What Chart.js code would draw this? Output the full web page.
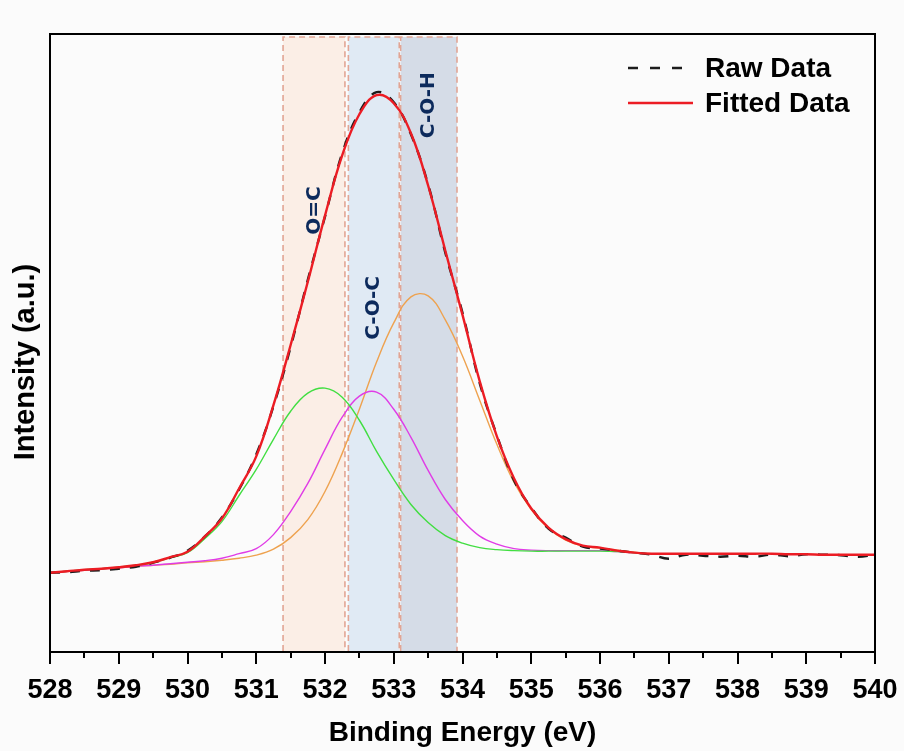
<!DOCTYPE html>
<html>
<head>
<meta charset="utf-8">
<script src="https://cdn.jsdelivr.net/npm/chart.js@4.4.1/dist/chart.umd.min.js"></script>
<style>
  html, body { margin: 0; padding: 0; background: #fbfbfb; }
  canvas { display: block; }
</style>
</head>
<body>
<canvas id="xps" width="904" height="751"></canvas>
<script>
// O 1s region: binding energy grid (eV)
const energy = [
  528.00, 528.25, 528.50, 528.75, 529.00, 529.25, 529.50, 529.75,
  530.00, 530.25, 530.50, 530.75, 531.00, 531.25, 531.50, 531.75,
  532.00, 532.25, 532.50, 532.75, 533.00, 533.25, 533.50, 533.75,
  534.00, 534.25, 534.50, 534.75, 535.00, 535.25, 535.50, 535.75,
  536.00, 536.25, 536.50, 536.75, 537.00, 537.25, 537.50, 537.75,
  538.00, 538.25, 538.50, 538.75, 539.00, 539.25, 539.50, 539.75,
  540.00
];

// Measured spectrum (a.u.)
const rawData = [
  79, 79.5, 81, 81.5, 83, 85, 89, 94,
  101, 115, 134, 162, 197, 245, 304, 371,
  434, 497, 538, 558, 548, 516, 466, 398,
  338, 268, 216, 171, 144, 123, 114, 105,
  103, 101, 99, 97, 93, 97, 96, 95,
  96, 95, 97, 95.5, 97.5, 97, 96.5, 95,
  97
];

// Envelope of the peak fit (a.u.)
const fittedData = [
  79, 80.5, 82, 83, 84.5, 86.5, 89.5, 94.5,
  100, 115, 133, 163, 195, 246, 306, 369,
  435, 495, 536, 555, 547, 517, 465, 400,
  336, 270, 215, 173, 143, 124, 112.5, 106,
  104, 101, 99, 98, 98, 98, 98, 98,
  98, 98, 98, 97.5, 97.5, 97, 97, 97,
  97
];

// Fitted components, 528 - 537 eV (a.u.)
const peakOC = [
  79, 80.5, 82, 83, 84.5, 86.5, 89, 94,
  99, 113, 130, 156, 182, 212, 240, 258,
  263, 254, 231, 200, 172, 147, 129, 116,
  108.5, 104, 102, 101, 100.5, 100.5, 100.5, 100.5,
  100.5, 100, 99, 98, 98
];
const peakCOC = [
  79, 80.5, 81.5, 83, 84, 85.5, 86.5, 88,
  89.5, 91, 93.5, 98, 103, 117, 140, 168,
  202, 234, 255, 259, 242, 214, 181, 152,
  131, 115.5, 107.5, 103, 101.5, 101, 101, 101,
  101, 100, 99, 98, 98
];
const peakCOH = [
  79, 80.5, 81.5, 83, 84, 85.5, 86.5, 87.5,
  89, 90, 91.5, 93.5, 96.5, 102.5, 114, 132,
  160, 198, 242, 289, 328, 354, 355, 331,
  295, 251, 207, 169, 142, 123, 111.5, 105.5,
  103.5, 101.5, 99.5, 98, 98
];

// Axis ticks (eV)
const xTicks = [528, 529, 530, 531, 532, 533, 534, 535, 536, 537, 538, 539, 540];

// Chemical-state windows (eV)
const bandNames = ['O=C', 'C-O-C', 'C-O-H'];
const bandStart = [531.39, 532.34, 533.10];
const bandEnd = [532.29, 533.08, 533.92];

const pts = arr => arr.map((y, i) => ({ x: energy[i], y }));

const AXIS_FONT = "'Liberation Sans', Arial, sans-serif";

// Shaded windows with dashed outlines, behind the curves
const bandPlugin = {
  id: 'bands',
  beforeDatasetsDraw(chart, args, opts) {
    const { ctx, chartArea, scales } = chart;
    const top = chartArea.top + 3;
    const bottom = chartArea.bottom - 1;
    ctx.save();
    bandNames.forEach((name, i) => {
      const x1 = scales.x.getPixelForValue(bandStart[i]);
      const x2 = scales.x.getPixelForValue(bandEnd[i]);
      ctx.fillStyle = opts.fills[i];
      ctx.fillRect(x1, top, x2 - x1, bottom - top);
    });
    ctx.strokeStyle = opts.edge;
    ctx.lineWidth = 1.6;
    ctx.setLineDash([6, 4]);
    bandNames.forEach((name, i) => {
      const x1 = scales.x.getPixelForValue(bandStart[i]);
      const x2 = scales.x.getPixelForValue(bandEnd[i]);
      ctx.beginPath();
      ctx.moveTo(x1, bottom);
      ctx.lineTo(x1, top);
      ctx.lineTo(x2, top);
      ctx.lineTo(x2, bottom);
      ctx.stroke();
    });
    ctx.restore();
  },
  afterDatasetsDraw(chart, args, opts) {
    const { ctx, scales } = chart;
    ctx.save();
    ctx.fillStyle = opts.labelColor;
    ctx.font = "bold 20px 'DejaVu Sans', sans-serif";
    ctx.textAlign = 'center';
    ctx.textBaseline = 'middle';
    bandNames.forEach((name, i) => {
      const x = scales.x.getPixelForValue(opts.labelAt[i][0]);
      const y = scales.y.getPixelForValue(opts.labelAt[i][1]);
      ctx.save();
      ctx.translate(x, y);
      ctx.rotate(-Math.PI / 2);
      ctx.fillText(name, 0, 0);
      ctx.restore();
    });
    ctx.restore();
  }
};

// Closed frame, minor ticks, y-axis title and the in-plot legend
const framePlugin = {
  id: 'frame',
  beforeDraw(chart) {
    const { ctx, width, height } = chart;
    ctx.save();
    ctx.fillStyle = '#fbfbfb';
    ctx.fillRect(0, 0, width, height);
    ctx.restore();
  },
  afterDraw(chart, args, opts) {
    const { ctx, chartArea, scales } = chart;
    ctx.save();
    ctx.strokeStyle = '#000';
    ctx.lineWidth = 2;
    ctx.strokeRect(chartArea.left, chartArea.top, chartArea.right - chartArea.left, chartArea.bottom - chartArea.top);
    // minor ticks halfway between the labelled ones
    ctx.beginPath();
    xTicks.slice(0, -1).forEach(v => {
      const x = Math.round(scales.x.getPixelForValue(v + 0.5));
      ctx.moveTo(x, chartArea.bottom);
      ctx.lineTo(x, chartArea.bottom + 6);
    });
    ctx.stroke();

    // y-axis title, sitting a little below the plot's middle
    ctx.save();
    ctx.fillStyle = '#000';
    ctx.font = "bold 29px " + AXIS_FONT;
    ctx.textAlign = 'center';
    ctx.textBaseline = 'middle';
    ctx.translate(26, scales.y.getPixelForValue(opts.yTitleAt));
    ctx.rotate(-Math.PI / 2);
    ctx.fillText(opts.yTitle, 0, 0);
    ctx.restore();

    // legend
    const items = chart.data.datasets.slice(0, 2);
    const lx1 = 628, tx = 705;
    const rows = [68, 103];
    ctx.font = "bold 28px " + AXIS_FONT;
    ctx.textBaseline = 'middle';
    ctx.textAlign = 'left';
    items.forEach((ds, i) => {
      const y = rows[i];
      ctx.save();
      ctx.strokeStyle = ds.borderColor;
      ctx.lineWidth = 2.5;
      ctx.setLineDash(ds.borderDash ? [10, 12] : []);
      ctx.beginPath();
      ctx.moveTo(lx1, y);
      ctx.lineTo(ds.borderDash ? 682 : 693, y);
      ctx.stroke();
      ctx.restore();
      ctx.fillStyle = '#000';
      ctx.fillText(ds.label, tx, y + 1);
    });
    ctx.restore();
  }
};

new Chart(document.getElementById('xps'), {
  type: 'line',
  data: {
    datasets: [
      { label: 'Raw Data', data: pts(rawData), borderColor: '#1c1c1c', borderWidth: 2.4, borderDash: [10, 10], order: 1 },
      { label: 'Fitted Data', data: pts(fittedData), borderColor: '#ec1c24', borderWidth: 2.4, order: 0 },
      { label: 'O=C', data: pts(peakOC), borderColor: '#41de41', borderWidth: 1.4, order: 2 },
      { label: 'C-O-C', data: pts(peakCOC), borderColor: '#e03ce6', borderWidth: 1.4, order: 3 },
      { label: 'C-O-H', data: pts(peakCOH), borderColor: '#eea24f', borderWidth: 1.4, order: 4 }
    ]
  },
  options: {
    responsive: false,
    animation: false,
    devicePixelRatio: 1,
    layout: { padding: { left: 50, right: 29, top: 34, bottom: 0 } },
    elements: {
      point: { radius: 0 },
      line: { tension: 0.4, fill: false }
    },
    scales: {
      x: {
        type: 'linear',
        min: 528,
        max: 540,
        afterBuildTicks: s => { s.ticks = xTicks.map(v => ({ value: v })); },
        // edge labels may overhang the plot; let the layout padding set the width
        afterFit: s => { s.paddingLeft = 0; s.paddingRight = 0; },
        ticks: {
          color: '#000',
          padding: 10,
          font: { family: AXIS_FONT, size: 27, weight: 'bold' }
        },
        grid: { drawOnChartArea: false, drawTicks: true, tickLength: 12, color: '#000', lineWidth: 2 },
        border: { display: true, color: '#000', width: 2 },
        title: {
          display: true,
          text: 'Binding Energy (eV)',
          color: '#000',
          padding: { top: 0, bottom: 1 },
          font: { family: AXIS_FONT, size: 28, weight: 'bold' }
        }
      },
      y: {
        min: 0,
        max: 616,
        ticks: { display: false },
        grid: { display: false, drawTicks: false },
        border: { display: true, color: '#000', width: 2 },
        title: { display: false }
      }
    },
    plugins: {
      legend: { display: false },
      tooltip: { enabled: false },
      bands: {
        fills: ['#fbeee6', '#e0eaf4', '#d5dce7'],
        edge: '#e2a594',
        labelColor: '#0c2a5c',
        labelAt: [[531.85, 440], [532.71, 343], [533.51, 545]]
      },
      frame: { yTitle: 'Intensity (a.u.)', yTitleAt: 289 }
    }
  },
  plugins: [bandPlugin, framePlugin]
});
</script>
</body>
</html>
